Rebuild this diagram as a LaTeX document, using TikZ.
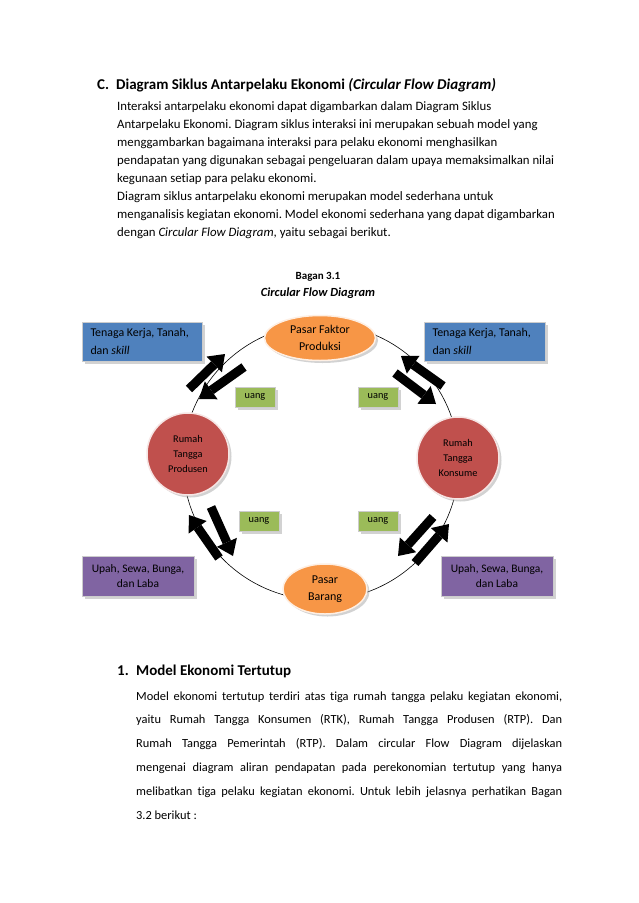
\documentclass[tikz,border=0pt]{standalone}
\usepackage{fontspec}
\setmainfont{Carlito}[Ligatures=NoCommon]
\usetikzlibrary{arrows.meta,shadows,shapes.geometric}
\frenchspacing

\definecolor{boxblue}{HTML}{4F81BD}
\definecolor{pasarorange}{HTML}{F79646}
\definecolor{rumahred}{HTML}{C0504D}
\definecolor{uanggreen}{HTML}{9BBB59}
\definecolor{upahpurple}{HTML}{8064A2}

\begin{document}
\begin{tikzpicture}[x=1pt,y=-1pt,
  body/.style={inner sep=0pt, anchor=base west, align=left},
  shadowed/.style={drop shadow={shadow xshift=2.5pt, shadow yshift=-2.5pt, fill=black!35}},
  flowbox/.style={shadowed, draw=white!80!black, line width=0.8pt, inner sep=0pt},
  pasar/.style={flowbox, ellipse, fill=pasarorange, draw=white!85!pasarorange, line width=1.5pt,
    align=center, font=\fontsize{12}{16.5}\selectfont},
  rumah/.style={flowbox, circle, fill=rumahred, draw=white!85!rumahred, line width=1.5pt,
    minimum size=82pt, align=center, font=\fontsize{10.3}{15}\selectfont},
  uang/.style={flowbox, fill=uanggreen, minimum width=40pt, minimum height=20pt,
    font=\fontsize{10.3}{12}\selectfont},
  fatarrow/.style={line width=9pt, -{Triangle[width=22pt,length=15pt,line width=0pt]}}]

  % Page
  \fill[white] (0,0) rectangle (638,903);
  \useasboundingbox (0,0) rectangle (638,903);

  % Text above (base = last line)
  \node[body, font=\bfseries\fontsize{15}{18}\selectfont] (headC) at (97,89.5)
    {\makebox[19pt][l]{C.}Diagram Siklus Antarpelaku Ekonomi \textit{(Circular Flow Diagram)}};
  \node[body, font=\fontsize{12.8}{18}\selectfont] (paraC) at (117,236.5)
    {Interaksi antarpelaku ekonomi dapat digambarkan dalam Diagram Siklus\\
     Antarpelaku Ekonomi. Diagram siklus interaksi ini merupakan sebuah model yang\\
     menggambarkan bagaimana interaksi para pelaku ekonomi menghasilkan\\
     pendapatan yang digunakan sebagai pengeluaran dalam upaya memaksimalkan nilai\\
     kegunaan setiap para pelaku ekonomi.\\
     Diagram siklus antarpelaku ekonomi merupakan model sederhana untuk\\
     menganalisis kegiatan ekonomi. Model ekonomi sederhana yang dapat digambarkan\\
     dengan \textit{Circular Flow Diagram}, yaitu sebagai berikut.};

  % Title
  \node[align=center, inner sep=0pt, font=\bfseries\fontsize{11}{17}\selectfont] (bagan) at (318,285)
    {Bagan 3.1\\ \fontsize{12.4}{17}\selectfont\textit{Circular Flow Diagram}};

  % Cycle
  \coordinate (ring) at (321,462);
  \draw[line width=0.6pt] (ring) circle [radius=138];

  % Markets and households
  \node[pasar, minimum width=111pt, minimum height=45pt] (faktor) at (320,338) {Pasar Faktor\\Produksi};
  \node[pasar, minimum width=84pt, minimum height=50pt] (barang) at (325,589) {Pasar\\Barang};
  \node[rumah] (rtp) at (188,454) {Rumah\\Tangga\\Produsen};
  \node[rumah] (rtk) at (458,458) {Rumah\\Tangga\\Konsume};

  % Flows
  \node[flowbox, fill=boxblue, minimum width=120pt, minimum height=39pt, text width=103pt,
    align=flush left, font=\fontsize{11.9}{18}\selectfont] (kerjaL) at (142,341.5) {Tenaga Kerja, Tanah,\\dan \textit{skill}};
  \node[flowbox, fill=boxblue, minimum width=121pt, minimum height=39pt, text width=104pt,
    align=flush left, font=\fontsize{11.9}{18}\selectfont] (kerjaR) at (484.5,341.5) {Tenaga Kerja, Tanah,\\dan \textit{skill}};
  \node[flowbox, fill=upahpurple, minimum width=112pt, minimum height=40pt,
    align=center, font=\fontsize{11.5}{15.5}\selectfont] (upahL) at (138,576) {Upah, Sewa, Bunga,\\dan Laba};
  \node[flowbox, fill=upahpurple, minimum width=112pt, minimum height=40pt,
    align=center, font=\fontsize{11.5}{15.5}\selectfont] (upahR) at (497,576) {Upah, Sewa, Bunga,\\dan Laba};

  \node[uang] (uangUL) at (255,397) {uang};
  \node[uang] (uangUR) at (378,397) {uang};
  \node[uang] (uangLL) at (259,521) {uang};
  \node[uang] (uangLR) at (378,521) {uang};

  % Arrows
  \draw[fatarrow] (189,389) -- (225,354);
  \draw[fatarrow] (244,367) -- (199,399);
  \draw[fatarrow] (443,386) -- (401,356);
  \draw[fatarrow] (395,373) -- (436,404);
  \draw[fatarrow] (219,558) -- (189,515);
  \draw[fatarrow] (211,507) -- (233,556);
  \draw[fatarrow] (433,517) -- (398,556);
  \draw[fatarrow] (415,563) -- (449,524);

  % Text below (base = last line)
  \node[body, font=\bfseries\fontsize{15}{18}\selectfont] (head1) at (117,675.5)
    {\makebox[19pt][l]{1.}Model Ekonomi Tertutup};
  \node[body, font=\fontsize{12.4}{23.9}\selectfont] (para1) at (136,819.5)
    {\makebox[426pt][s]{Model ekonomi tertutup terdiri atas tiga rumah tangga pelaku kegiatan ekonomi,}\\
     \makebox[426pt][s]{yaitu Rumah Tangga Konsumen (RTK), Rumah Tangga Produsen (RTP). Dan}\\
     \makebox[426pt][s]{Rumah Tangga Pemerintah (RTP). Dalam circular Flow Diagram dijelaskan}\\
     \makebox[426pt][s]{mengenai diagram aliran pendapatan pada perekonomian tertutup yang hanya}\\
     \makebox[426pt][s]{melibatkan tiga pelaku kegiatan ekonomi. Untuk lebih jelasnya perhatikan Bagan}\\
     3.2 berikut :};
\end{tikzpicture}
\end{document}
